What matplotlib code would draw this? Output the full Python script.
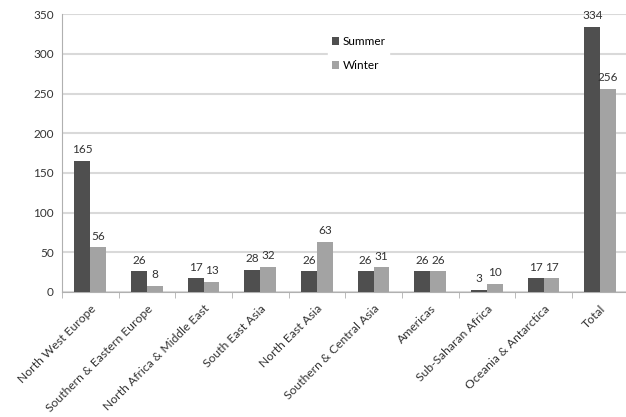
import matplotlib
matplotlib.use("Agg")
import matplotlib.pyplot as plt
import numpy as np

categories = ["North West Europe", "Southern & Eastern Europe", "North Africa & Middle East",
              "South East Asia", "North East Asia", "Southern & Central Asia", "Americas",
              "Sub-Saharan Africa", "Oceania & Antarctica", "Total"]
summer = [165, 26, 17, 28, 26, 26, 26, 3, 17, 334]
winter = [56, 8, 13, 32, 63, 31, 26, 10, 17, 256]
yticks = [0, 50, 100, 150, 200, 250, 300, 350]

plt.rcParams['font.family'] = ['Lato', 'DejaVu Sans']

fig = plt.figure(figsize=(6.26, 4.17), dpi=100)
ax = fig.add_axes([0.099, 0.300, 0.905, 0.666])

x = np.arange(len(categories))
w = 0.28
c_sum = "#4f4f4f"
c_win = "#a3a3a3"
b1 = ax.bar(x - w/2, summer, w, color=c_sum, label="Summer", zorder=3)
b2 = ax.bar(x + w/2, winter, w, color=c_win, label="Winter", zorder=3)

for rect, v in zip(b1, summer):
    ax.text(rect.get_x() + rect.get_width()/2, v + 7, str(v), ha="center", va="bottom",
            fontsize=8.5, color="#333333")
for rect, v in zip(b2, winter):
    ax.text(rect.get_x() + rect.get_width()/2, v + 7, str(v), ha="center", va="bottom",
            fontsize=8.5, color="#333333")

ax.set_xlim(-0.5, len(categories) - 0.5)
ax.set_ylim(0, 350)
ax.set_yticks(yticks)
ax.set_yticklabels([str(t) for t in yticks], fontsize=8.5, color="#333333")
ax.yaxis.grid(True, color="#d9d9d9", linewidth=1.5, zorder=0)
ax.set_axisbelow(True)

ax.set_xticks(x)
ax.set_xticklabels(categories, rotation=45, ha="right", rotation_mode="anchor",
                   fontsize=8.7, color="#333333")
ax.tick_params(axis="x", length=0, pad=8)
ax.set_xticks(np.arange(-0.5, len(categories) + 0.5, 1), minor=True)
ax.tick_params(axis="x", which="minor", length=4, color="#b0b0b0", direction="out")
ax.tick_params(axis="y", length=0, pad=6)

for s in ["top", "right"]:
    ax.spines[s].set_visible(False)
ax.spines["left"].set_color("#b0b0b0")
ax.spines["bottom"].set_color("#b0b0b0")

leg = ax.legend(loc="upper left", bbox_to_anchor=(0.46, 0.955), frameon=True,
                fontsize=8.5, handlelength=0.6, handleheight=0.6, handletextpad=0.3,
                labelspacing=1.1, borderpad=0.3)
leg.get_frame().set_edgecolor("white")
leg.get_frame().set_facecolor("white")
leg.get_frame().set_alpha(1)

fig.savefig("out.png", dpi=100)
